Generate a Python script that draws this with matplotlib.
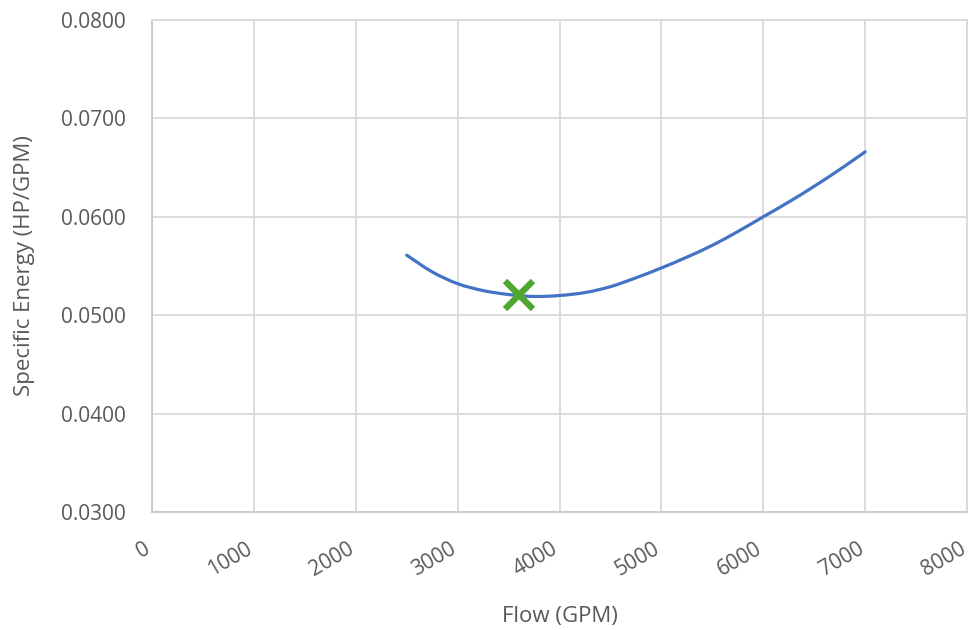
import matplotlib
matplotlib.use("Agg")
import matplotlib.pyplot as plt
import matplotlib.transforms as mtransforms
from matplotlib.path import Path
from matplotlib.patches import PathPatch

# curve
flow = [2500, 2750, 3000, 3250, 3500, 3750, 4000, 4250, 4500, 4750,
        5000, 5250, 5500, 5750, 6000, 6250, 6500, 6750, 7000]
energy = [0.0561, 0.0544, 0.0532, 0.0525, 0.0521, 0.0519, 0.0520, 0.0523,
          0.0529, 0.0538, 0.0548, 0.0559, 0.0571, 0.0585, 0.0600, 0.0615,
          0.0631, 0.0648, 0.0666]

best_flow = [3600]
best_energy = [0.0521]

xticks = [0, 1000, 2000, 3000, 4000, 5000, 6000, 7000, 8000]
yticks = [0.03, 0.04, 0.05, 0.06, 0.07, 0.08]

grey = "#595959"
grid_c = "#d9d9d9"
plt.rcParams["font.family"] = ["Open Sans", "DejaVu Sans"]


def smooth_path(xs, ys):
    # Excel-style smoothed line: Catmull-Rom segments as cubic Beziers
    verts = [(xs[0], ys[0])]
    codes = [Path.MOVETO]
    n = len(xs)
    for i in range(n - 1):
        x0, y0 = (xs[i - 1], ys[i - 1]) if i > 0 else (xs[i], ys[i])
        x1, y1 = xs[i], ys[i]
        x2, y2 = xs[i + 1], ys[i + 1]
        x3, y3 = (xs[i + 2], ys[i + 2]) if i + 2 < n else (x2, y2)
        verts += [(x1 + (x2 - x0) / 6, y1 + (y2 - y0) / 6),
                  (x2 - (x3 - x1) / 6, y2 - (y3 - y1) / 6),
                  (x2, y2)]
        codes += [Path.CURVE4] * 3
    return Path(verts, codes)


fig = plt.figure(figsize=(9.72, 6.3), dpi=100)
ax = fig.add_axes([0.1564, 0.1873, 0.8385, 0.781])

ax.add_patch(PathPatch(smooth_path(flow, energy), facecolor="none",
                       edgecolor="#4472C4", lw=2.3, capstyle="round", zorder=3))
ax.plot(best_flow, best_energy, linestyle="none", marker="x", markersize=20,
        mew=4.5, color="#4EA72E", zorder=4)

ax.set_xlim(0, 8000)
ax.set_ylim(0.03, 0.08)
ax.set_xticks(xticks)
ax.set_yticks(yticks)
ax.set_xticklabels([str(v) for v in xticks], rotation=30, ha="right",
                   va="top", rotation_mode="anchor")
ax.set_yticklabels([f"{v:.4f}" for v in yticks])
ax.tick_params(length=0, labelsize=15, colors=grey)
ax.tick_params(axis="y", pad=19)
ax.tick_params(axis="x", pad=19)

# nudge the slanted labels a bit left so 8000 stays inside the canvas
shift = mtransforms.ScaledTranslation(-6 / 72, 0, fig.dpi_scale_trans)
for lab in ax.get_xticklabels():
    lab.set_transform(lab.get_transform() + shift)

ax.grid(True, color=grid_c, lw=1.3)
ax.set_axisbelow(True)
for s in ax.spines.values():
    s.set_color(grid_c)
    s.set_linewidth(1.3)
ax.spines["left"].set_color("#c8c8c8")
ax.spines["bottom"].set_color("#c8c8c8")

ax.set_xlabel("Flow (GPM)", fontsize=16, color=grey)
ax.set_ylabel("Specific Energy (HP/GPM)", fontsize=16, color=grey)
ax.xaxis.set_label_coords(0.5, -0.213)
ax.yaxis.set_label_coords(-0.156, 0.5)
ax.xaxis.label.set_va("center")
ax.yaxis.label.set_va("center")

fig.savefig("out.png", dpi=100)
